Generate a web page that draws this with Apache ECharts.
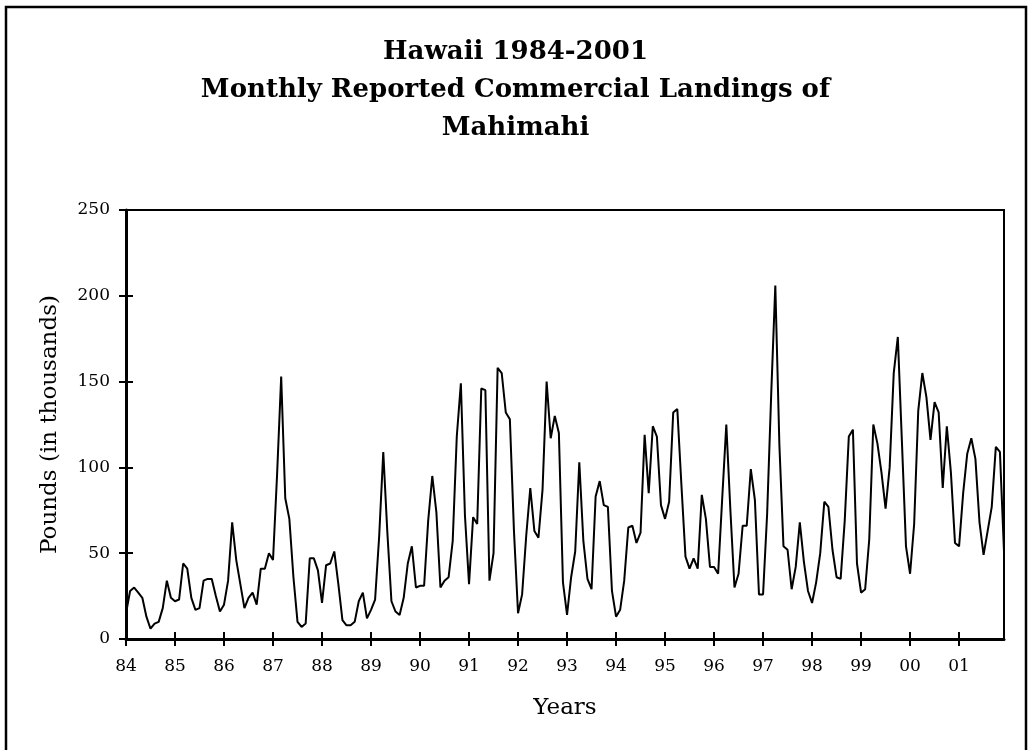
<!DOCTYPE html>
<html>
<head>
<meta charset="utf-8">
<title>Hawaii Mahimahi landings</title>
<script src="https://cdn.jsdelivr.net/npm/echarts@6/dist/echarts.min.js"></script>
<style>
  html, body { margin: 0; padding: 0; background: #fff; }
  #chart { width: 1031px; height: 750px; }
</style>
</head>
<body>
<div id="chart"></div>
<script>
// year tick labels, one per 12 months
const years = ['84','85','86','87','88','89','90','91','92','93','94','95','96','97','98','99','00','01'];

// monthly landings, thousands of pounds
const landings = [
  15, 28, 30, 27, 24, 13, 6, 9, 10, 18, 34, 24,        // 84
  22, 23, 44, 41, 24, 17, 18, 34, 35, 35, 25, 16,      // 85
  20, 34, 68, 46, 32, 18, 24, 27, 20, 41, 41, 50,      // 86
  46, 96, 153, 82, 70, 36, 10, 7, 9, 47, 47, 40,       // 87
  21, 43, 44, 51, 32, 11, 8, 8, 10, 22, 27, 12,        // 88
  17, 23, 60, 109, 62, 22, 16, 14, 24, 44, 54, 30,     // 89
  31, 31, 69, 95, 74, 30, 34, 36, 57, 118, 149, 72,    // 90
  32, 71, 67, 146, 145, 34, 50, 158, 155, 132, 128, 63,// 91
  15, 26, 60, 88, 63, 59, 87, 150, 117, 130, 120, 33,  // 92
  14, 36, 51, 103, 57, 35, 29, 83, 92, 78, 77, 28,     // 93
  13, 17, 34, 65, 66, 56, 62, 119, 85, 124, 118, 78,   // 94
  70, 80, 132, 134, 90, 48, 41, 47, 41, 84, 70, 42,    // 95
  42, 38, 82, 125, 75, 30, 38, 66, 66, 99, 81, 26,     // 96
  26, 73, 143, 206, 113, 54, 52, 29, 42, 68, 45, 28,   // 97
  21, 33, 50, 80, 77, 52, 36, 35, 69, 118, 122, 44,    // 98
  27, 29, 58, 125, 114, 97, 76, 100, 155, 176, 115, 54,// 99
  38, 67, 133, 155, 141, 116, 138, 132, 88, 124, 97, 56,// 00
  54, 85, 108, 117, 105, 68, 49, 63, 77, 112, 109, 51  // 01
];

const yTicks = [0, 50, 100, 150, 200, 250];

// category per month, e.g. "84-1"
const months = [];
years.forEach(function (y) {
  for (let m = 1; m <= 12; m++) months.push(y + '-' + m);
});

const serif = 'DejaVu Serif';
const gridH = 429, gridW = 878;

const myChart = echarts.init(document.getElementById('chart'));
myChart.setOption({
  backgroundColor: '#fff',
  animation: false,
  title: {
    text: 'Hawaii 1984-2001\nMonthly Reported Commercial Landings of\nMahimahi',
    left: 'center',
    top: 28,
    textStyle: {
      fontFamily: serif, fontWeight: 'bold', fontSize: 26, lineHeight: 38, color: '#000',
      align: 'center'
    }
  },
  graphic: [{
    type: 'rect',
    shape: { x: 6, y: 7, width: 1020, height: 800 },
    style: { fill: 'none', stroke: '#000', lineWidth: 2.5 },
    silent: true
  }],
  grid: {
    left: 126, top: 210, width: gridW, height: gridH,
    show: true, borderColor: '#000', borderWidth: 2, backgroundColor: 'transparent'
  },
  xAxis: [{
    type: 'category',
    data: months,
    boundaryGap: false,
    axisLine: { lineStyle: { color: '#000', width: 3 } },
    axisTick: { interval: 11, length: 7, lineStyle: { color: '#000', width: 2 } },
    axisLabel: {
      interval: 11, margin: 19, color: '#000', fontFamily: serif, fontSize: 17,
      formatter: function (v) { return v.split('-')[0]; }
    },
    splitLine: { show: false },
    name: 'Years',
    nameLocation: 'middle',
    nameGap: 58,
    nameTextStyle: { fontFamily: serif, fontSize: 23, color: '#000' }
  }, {
    // inner half of the crossing ticks
    type: 'category',
    data: months,
    boundaryGap: false,
    position: 'top',
    offset: -gridH,
    axisLine: { show: false },
    axisTick: { interval: 11, length: 7, lineStyle: { color: '#000', width: 2 } },
    axisLabel: { show: false },
    splitLine: { show: false }
  }],
  yAxis: [{
    type: 'value',
    min: yTicks[0], max: yTicks[yTicks.length - 1], interval: 50,
    axisLine: { show: true, lineStyle: { color: '#000', width: 3 } },
    axisTick: { show: true, length: 7, lineStyle: { color: '#000', width: 2 } },
    axisLabel: { margin: 16, color: '#000', fontFamily: serif, fontSize: 17 },
    splitLine: { show: false },
    name: 'Pounds (in thousands)',
    nameLocation: 'middle',
    nameGap: 64,
    nameTextStyle: { fontFamily: serif, fontSize: 23, color: '#000' }
  }, {
    type: 'value',
    min: yTicks[0], max: yTicks[yTicks.length - 1], interval: 50,
    position: 'right',
    offset: -gridW,
    axisLine: { show: false },
    axisTick: { show: true, length: 7, lineStyle: { color: '#000', width: 2 } },
    axisLabel: { show: false },
    splitLine: { show: false }
  }],
  series: [{
    type: 'line',
    data: landings,
    showSymbol: false,
    lineStyle: { color: '#000', width: 2 },
    itemStyle: { color: '#000' }
  }]
});
</script>
</body>
</html>
